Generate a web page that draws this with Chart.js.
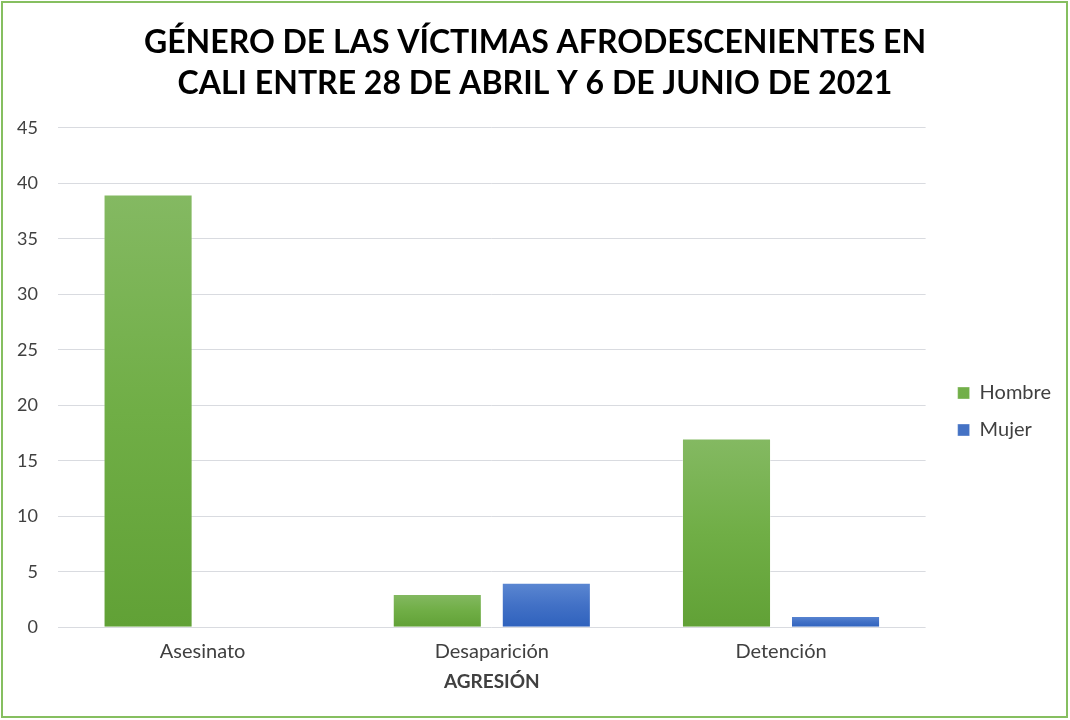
<!DOCTYPE html>
<html>
<head>
<meta charset="utf-8">
<script src="https://cdn.jsdelivr.net/npm/chart.js@4.4.1/dist/chart.umd.min.js"></script>
<style>
  html, body { margin: 0; padding: 0; background: #fff; }
  #wrap { position: relative; width: 1070px; height: 720px; overflow: hidden; }
  #chart { position: absolute; left: 0; top: 0; }
  .frame {
    position: absolute; left: 1px; top: 1px; width: 1067px; height: 717px;
    border: 2px solid #86bf60; box-sizing: border-box; pointer-events: none;
  }
</style>
</head>
<body>
<div id="wrap">
  <canvas id="chart" width="1070" height="720"></canvas>
  <div class="frame"></div>
</div>
<script>
const titleLines = [
  "GÉNERO DE LAS VÍCTIMAS AFRODESCENIENTES EN",
  "CALI ENTRE 28 DE ABRIL Y 6 DE JUNIO DE 2021"
];
const categories = ["Asesinato", "Desaparición", "Detención"];
const hombre = [39, 3, 17];
const mujer = [0, 4, 1];
const xTitle = "AGRESIÓN";

const FONT = "Lato, Calibri, 'Noto Sans', sans-serif";
const textColor = "#404040";

// per-bar vertical gradient, light at the top like Excel's default fill
function barFill(stops, flat) {
  return ctx => {
    if (ctx.type !== "data" || !ctx.chart.chartArea) return flat;
    const y = ctx.chart.scales.y;
    const top = y.getPixelForValue(ctx.dataset.data[ctx.dataIndex]);
    const bottom = y.getPixelForValue(0);
    if (bottom - top < 1) return flat;
    const g = ctx.chart.ctx.createLinearGradient(0, top, 0, bottom);
    g.addColorStop(0, stops[0]);
    g.addColorStop(0.5, stops[1]);
    g.addColorStop(1, stops[2]);
    return g;
  };
}

// Excel puts the legend further from the plot and lower down,
// and centres the title on the whole picture
const nudge = {
  id: "nudge",
  afterLayout(chart) {
    const lg = chart.legend;
    if (lg) {
      lg.left += 15; lg.right += 15;
      lg.top += 65; lg.bottom += 65;
    }
    const t = chart.titleBlock;
    if (t) { t.left += 12; t.right += 12; }
  }
};

new Chart(document.getElementById("chart"), {
  type: "bar",
  data: {
    labels: categories,
    datasets: [
      {
        label: "Hombre",
        data: hombre,
        backgroundColor: barFill(["#84b962", "#70ae46", "#61a136"], "#70ad47"),
        borderColor: "rgba(255,255,255,0.35)",
        borderWidth: 1
      },
      {
        label: "Mujer",
        data: mujer,
        backgroundColor: barFill(["#5b87d2", "#4271c6", "#2f62bd"], "#4472c4"),
        borderColor: "rgba(255,255,255,0.35)",
        borderWidth: 1
      }
    ]
  },
  options: {
    responsive: false,
    animation: false,
    categoryPercentage: 0.754,
    barPercentage: 0.817,
    layout: { padding: { left: 0, right: 24, top: 0, bottom: 27 } },
    plugins: {
      title: {
        display: true,
        text: titleLines,
        color: "#000",
        font: { family: FONT, size: 32, weight: "bold", lineHeight: 1.28 },
        padding: { top: 22, bottom: 24 }
      },
      legend: {
        position: "right",
        labels: {
          color: textColor,
          font: { family: FONT, size: 20 },
          boxWidth: 12,
          boxHeight: 12,
          padding: 17
        }
      },
      tooltip: { enabled: false }
    },
    scales: {
      x: {
        grid: { display: false, drawTicks: false },
        border: { display: false },
        ticks: { color: textColor, font: { family: FONT, size: 20 }, padding: 12 },
        title: {
          display: true,
          text: xTitle,
          color: textColor,
          font: { family: FONT, size: 19, weight: "bold" },
          padding: { top: -5, bottom: 0 }
        }
      },
      y: {
        min: 0,
        max: 45,
        ticks: { stepSize: 5, color: textColor, font: { family: FONT, size: 18 }, padding: 20 },
        grid: { color: "#d9dbe0", drawTicks: false },
        border: { display: false },
        afterFit: s => { s.width = 58; }
      }
    }
  },
  plugins: [nudge]
});
</script>
</body>
</html>
